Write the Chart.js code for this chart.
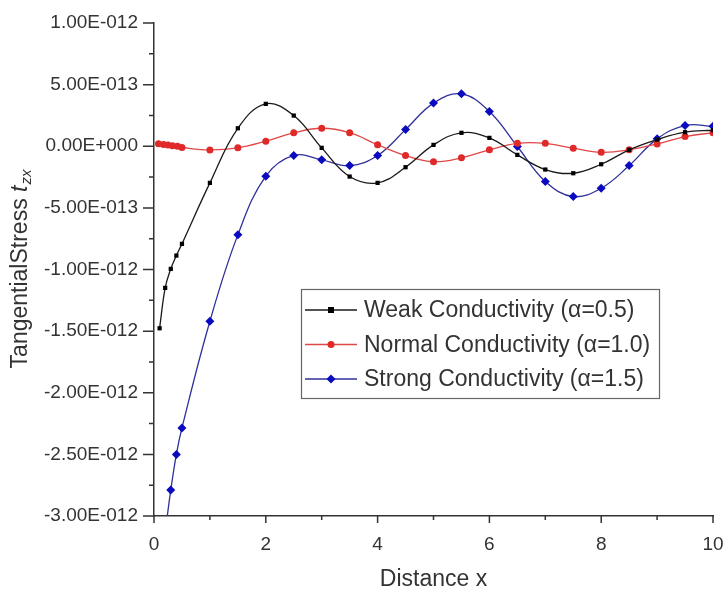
<!DOCTYPE html>
<html>
<head>
<meta charset="utf-8">
<script src="https://cdn.jsdelivr.net/npm/chart.js@4.4.1/dist/chart.umd.min.js"></script>
<style>
html, body { margin: 0; padding: 0; overflow: hidden; background: #fff; }
#wrap { position: relative; width: 735px; height: 597px; }
</style>
</head>
<body>
<div id="wrap"><canvas id="myChart"></canvas></div>
<script>
// values
var weakX = [0.1, 0.2, 0.3, 0.4, 0.5, 1, 1.5, 2, 2.5, 3, 3.5, 4, 4.5, 5, 5.5, 6, 6.5, 7, 7.5, 8, 8.5, 9, 9.5, 10];
var weakY = [-1.477e-12, -1.149e-12, -0.995e-12, -0.887e-12, -0.792e-12, -0.297e-12, 0.146e-12, 0.344e-12, 0.249e-12, -0.013e-12,
  -0.246e-12, -0.297e-12, -0.170e-12, 0.011e-12, 0.109e-12, 0.068e-12, -0.070e-12, -0.189e-12, -0.219e-12, -0.146e-12,
  -0.029e-12, 0.054e-12, 0.114e-12, 0.130e-12];

var normalX = [0.08, 0.17, 0.25, 0.33, 0.42, 0.5, 1, 1.5, 2, 2.5, 3, 3.5, 4, 4.5, 5, 5.5, 6, 6.5, 7, 7.5, 8, 8.5, 9, 9.5, 10];
var normalY = [0.020e-12, 0.015e-12, 0.010e-12, 0.005e-12, 0.000e-12, -0.010e-12, -0.030e-12, -0.013e-12, 0.041e-12, 0.109e-12,
  0.146e-12, 0.110e-12, 0.012e-12, -0.075e-12, -0.125e-12, -0.094e-12, -0.029e-12, 0.024e-12, 0.024e-12, -0.016e-12,
  -0.049e-12, -0.029e-12, 0.019e-12, 0.079e-12, 0.109e-12];

var strongX = [0.2, 0.3, 0.4, 0.5, 1, 1.5, 2, 2.5, 3, 3.5, 4, 4.5, 5, 5.5, 6, 6.5, 7, 7.5, 8, 8.5, 9, 9.5, 10];
var strongY = [-3.13e-12, -2.79e-12, -2.50e-12, -2.285e-12, -1.42e-12, -0.719e-12, -0.243e-12, -0.075e-12, -0.110e-12, -0.157e-12,
  -0.075e-12, 0.135e-12, 0.350e-12, 0.425e-12, 0.282e-12, -0.002e-12, -0.286e-12, -0.408e-12, -0.341e-12, -0.157e-12,
  0.060e-12, 0.168e-12, 0.162e-12];

var seriesLabels = ['Weak Conductivity (\u03b1=0.5)', 'Normal Conductivity (\u03b1=1.0)', 'Strong Conductivity (\u03b1=1.5)'];
var xTickLabels = ['0', '2', '4', '6', '8', '10'];
var yTickLabels = ['-3.00E-012', '-2.50E-012', '-2.00E-012', '-1.50E-012', '-1.00E-012', '-5.00E-013', '0.00E+000', '5.00E-013', '1.00E-012'];

var FONT = "'Liberation Sans', Arial, sans-serif";
var TEXT = '#333';

function toPoints(xs, ys) {
  return xs.map(function (x, i) { return {x: x, y: ys[i]}; });
}

// major + minor tick marks on both axes
var tickMarks = {
  id: 'tickMarks',
  afterDraw: function (chart) {
    var c = chart.ctx, xs = chart.scales.x, ys = chart.scales.y;
    c.save();
    c.strokeStyle = '#333';
    c.lineWidth = 1.5;
    c.beginPath();
    xs.ticks.forEach(function (t, i) {
      var px = xs.getPixelForTick(i);
      c.moveTo(px, xs.top);
      c.lineTo(px, xs.top + (i % 2 === 0 ? 7 : 4));
    });
    ys.ticks.forEach(function (t, i) {
      var py = ys.getPixelForTick(i);
      c.moveTo(ys.right, py);
      c.lineTo(ys.right - (i % 2 === 0 ? 11 : 5), py);
    });
    c.stroke();
    c.restore();
  }
};

// y title with italic t and subscript zx
var yTitle = {
  id: 'yTitle',
  afterDraw: function (chart) {
    var c = chart.ctx, ys = chart.scales.y;
    var main = 'TangentialStress ', t = 't', sub = 'zx';
    c.save();
    c.fillStyle = TEXT;
    c.textBaseline = 'middle';
    c.textAlign = 'left';
    c.font = '23px ' + FONT;
    var w1 = c.measureText(main).width;
    c.font = 'italic 23px ' + FONT;
    var w2 = c.measureText(t).width;
    c.font = 'italic 15px ' + FONT;
    var w3 = c.measureText(sub).width;
    var total = w1 + w2 + w3;
    c.translate(21, (ys.top + ys.bottom) / 2);
    c.rotate(-Math.PI / 2);
    var x0 = -total / 2;
    c.font = '23px ' + FONT;
    c.fillText(main, x0, 0);
    c.font = 'italic 23px ' + FONT;
    c.fillText(t, x0 + w1, 0);
    c.font = 'italic 15px ' + FONT;
    c.fillText(sub, x0 + w1 + w2 + 1, 6);
    c.restore();
  }
};

// boxed legend inside the plot
function drawMarker(c, style, x, y, r, color) {
  c.fillStyle = color;
  c.beginPath();
  if (style === 'rect') {
    c.rect(x - r, y - r, 2 * r, 2 * r);
  } else if (style === 'rectRot') {
    c.moveTo(x, y - r); c.lineTo(x + r, y); c.lineTo(x, y + r); c.lineTo(x - r, y); c.closePath();
  } else {
    c.arc(x, y, r, 0, Math.PI * 2);
  }
  c.fill();
}

var boxLegend = {
  id: 'boxLegend',
  afterDraw: function (chart) {
    var c = chart.ctx;
    var left = 301, top = 289, w = 358, h = 109;
    c.save();
    c.fillStyle = '#fff';
    c.fillRect(left, top, w, h);
    c.strokeStyle = '#666';
    c.lineWidth = 1.2;
    c.strokeRect(left + 0.5, top + 0.5, w, h);
    c.font = '23px ' + FONT;
    c.textBaseline = 'middle';
    c.textAlign = 'left';
    chart.data.datasets.forEach(function (ds, i) {
      var y = 310 + i * 34.5;
      c.strokeStyle = ds.borderColor;
      c.lineWidth = 1.3;
      c.beginPath();
      c.moveTo(left + 4, y);
      c.lineTo(left + 56, y);
      c.stroke();
      drawMarker(c, ds.pointStyle, left + 30, y, ds.pointRadius, ds.pointBackgroundColor);
      c.fillStyle = TEXT;
      c.fillText(ds.label, left + 63, y + 1);
    });
    c.restore();
  }
};

var chart = new Chart(document.getElementById('myChart'), {
  type: 'line',
  data: {
    datasets: [{
      label: seriesLabels[0],
      data: toPoints(weakX, weakY),
      borderColor: '#1a1a1a',
      borderWidth: 1.3,
      pointStyle: 'rect',
      pointRadius: 3,
      pointBackgroundColor: '#000',
      pointBorderWidth: 0,
      tension: 0.4
    }, {
      label: seriesLabels[1],
      data: toPoints(normalX, normalY),
      borderColor: '#e04848',
      borderWidth: 1.3,
      pointStyle: 'circle',
      pointRadius: 3.5,
      pointBackgroundColor: '#e02a2a',
      pointBorderWidth: 0,
      tension: 0.4
    }, {
      label: seriesLabels[2],
      data: toPoints(strongX, strongY),
      borderColor: '#30309a',
      borderWidth: 1.3,
      pointStyle: 'rectRot',
      pointRadius: 4.5,
      pointBackgroundColor: '#0a0ac0',
      pointBorderWidth: 0,
      tension: 0.4
    }]
  },
  options: {
    responsive: true,
    maintainAspectRatio: false,
    animation: false,
    layout: { padding: { top: 23, right: 22, left: 0, bottom: 0 } },
    plugins: {
      legend: { display: false },
      tooltip: { enabled: false }
    },
    scales: {
      x: {
        type: 'linear',
        min: 0,
        max: 10,
        ticks: {
          stepSize: 1,
          autoSkip: false,
          maxRotation: 0,
          padding: 17,
          color: TEXT,
          font: { family: FONT, size: 19 },
          callback: function (v, i) { return i % 2 === 0 ? xTickLabels[i / 2] : ''; }
        },
        grid: { display: false, drawTicks: false },
        border: { display: true, color: '#333', width: 1.5 },
        title: {
          display: true,
          text: 'Distance x',
          color: TEXT,
          font: { family: FONT, size: 23 },
          padding: { top: 4, bottom: 4 }
        },
        afterFit: function (s) {
          s.height = 81;
          s.paddingLeft = 0; s.paddingRight = 0; s.paddingTop = 0; s.paddingBottom = 0;
        }
      },
      y: {
        min: -3e-12,
        max: 1e-12,
        ticks: {
          stepSize: 0.25e-12,
          autoSkip: false,
          padding: 16,
          color: TEXT,
          font: { family: FONT, size: 19 },
          callback: function (v, i) { return i % 2 === 0 ? yTickLabels[i / 2] : ''; }
        },
        grid: { display: false, drawTicks: false },
        border: { display: true, color: '#333', width: 1.5 },
        afterFit: function (s) {
          s.width = 154;
          s.paddingLeft = 0; s.paddingRight = 0; s.paddingTop = 0; s.paddingBottom = 0;
        }
      }
    }
  },
  plugins: [tickMarks, yTitle, boxLegend]
});
</script>
</body>
</html>
